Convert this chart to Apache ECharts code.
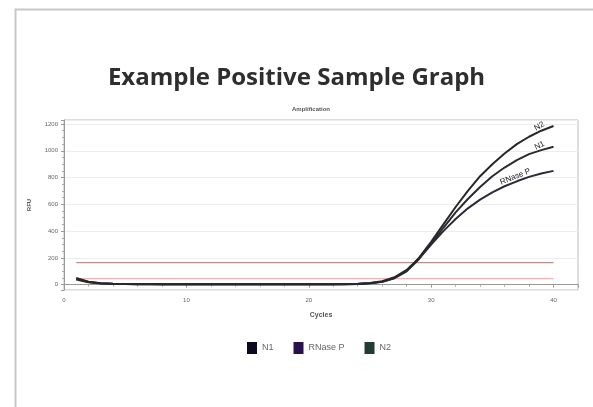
<!DOCTYPE html>
<html><head><meta charset="utf-8">
<script src="https://cdn.jsdelivr.net/npm/echarts@6/dist/echarts.min.js"></script>
<style>html,body{margin:0;padding:0;background:#fff}#c{width:593px;height:407px}</style>
</head><body><div id="c"></div>
<script>
const cycles = [1,2,3,4,5,6,7,8,9,10,11,12,13,14,15,16,17,18,19,20,21,22,23,24,25,26,27,28,29,30,31,32,33,34,35,36,37,38,39,40];
const n2 =    [45,20,10,6,4,3,3,2,2,2,2,2,2,2,2,2,2,2,2,2,2,2,3,5,10,22,50,105,200,320,450,580,700,810,900,980,1050,1105,1150,1185];
const n1 =    [38,18,9,5,4,3,3,3,3,3,3,3,3,3,3,3,3,3,3,3,3,3,3,5,10,21,48,100,190,305,425,540,640,730,810,875,930,975,1005,1030];
const rnaseP= [50,22,11,7,5,4,4,4,4,4,4,4,4,4,4,4,4,4,4,4,4,4,4,6,12,25,55,110,195,300,400,490,570,635,690,735,772,805,830,850];
const thresholdHigh = 165;
const thresholdLow = 45;
const yTicks = [0,200,400,600,800,1000,1200];
const xTicks = [0,10,20,30,40];

function mk(vals, labelIdx, text, rot){
  return cycles.map((c,i)=>{
    const p = {value:[c, vals[i]]};
    if(i===labelIdx){ p.label = {show:true, formatter:text, rotate:rot, position:'top', distance:1, color:'#222', fontSize:8, fontFamily:'Liberation Sans'}; }
    return p;
  });
}
const chart = echarts.init(document.getElementById('c'));
chart.setOption({
  animation:false,
  graphic:[{type:'rect', left:13, top:7, shape:{width:620, height:430}, style:{fill:'none', stroke:'#c8c8c8', lineWidth:2}}],
  title:[
    {text:'Example Positive Sample Graph', left:'center', top:61, textStyle:{fontFamily:'Open Sans', fontWeight:'bold', fontSize:24, color:'#2e2e2e'}},
    {text:'Amplification', left:306, textAlign:'center', top:101, textStyle:{fontFamily:'Liberation Sans', fontWeight:'bold', fontSize:6, color:'#555'}}
  ],
  legend:{data:['N1','RNase P','N2'], left:242, top:337, icon:'rect', itemWidth:10, itemHeight:12, itemGap:20, textStyle:{fontSize:9, color:'#666', fontFamily:'Liberation Sans'}},
  grid:{left:64, right:15, top:120, bottom:117, show:true, borderColor:'#bbb', borderWidth:1},
  xAxis:{type:'value', min:0, max:42, splitNumber:4, name:'Cycles', nameLocation:'middle', nameGap:22,
    nameTextStyle:{fontSize:7, fontWeight:'bold', color:'#555', fontFamily:'Liberation Sans'},
    axisLine:{show:true, lineStyle:{color:'#999'}}, axisTick:{show:true, length:3, lineStyle:{color:'#999'}},
    minorTick:{show:true, splitNumber:5, length:2, lineStyle:{color:'#aaa'}},
    axisLabel:{fontSize:6, color:'#666', margin:7, formatter:v=> xTicks.includes(v)? String(v):''},
    splitLine:{show:false}},
  yAxis:{type:'value', min:-40, max:1230, splitNumber:6, name:'RFU', nameLocation:'middle', nameGap:32, nameRotate:90,
    nameTextStyle:{fontSize:6, fontWeight:'bold', color:'#555', fontFamily:'Liberation Sans'},
    axisLine:{show:true, lineStyle:{color:'#999'}}, axisTick:{show:true, length:3, lineStyle:{color:'#999'}},
    minorTick:{show:true, splitNumber:4, length:2, lineStyle:{color:'#aaa'}},
    axisLabel:{fontSize:6, color:'#666', margin:6, formatter:v=> yTicks.includes(v)? String(v):''},
    splitLine:{show:true, lineStyle:{color:'#ececec'}}},
  series:[
    {name:'N1', type:'line', data:mk(n1, 38, 'N1', 26), showSymbol:true, symbol:'circle', symbolSize:0, lineStyle:{color:'#2a2a30', width:2}, itemStyle:{color:'#0d0a1e'}, z:3},
    {name:'RNase P', type:'line', data:mk(rnaseP, 36, 'RNase P', 22), showSymbol:true, symbol:'circle', symbolSize:0, lineStyle:{color:'#2e2a38', width:2}, itemStyle:{color:'#2b1050'}, z:3},
    {name:'N2', type:'line', data:mk(n2, 38, 'N2', 30), showSymbol:true, symbol:'circle', symbolSize:0, lineStyle:{color:'#26282a', width:2}, itemStyle:{color:'#1f3d33'}, z:3},
    {name:'thrHigh', type:'line', data:[[1,thresholdHigh],[40,thresholdHigh]], symbol:'none', silent:true, lineStyle:{color:'#b89090', width:1.2}, z:2},
    {name:'thrLow', type:'line', data:[[1,thresholdLow],[40,thresholdLow]], symbol:'none', silent:true, lineStyle:{color:'#f0b4b4', width:1.2}, z:2}
  ]
});
</script></body></html>
